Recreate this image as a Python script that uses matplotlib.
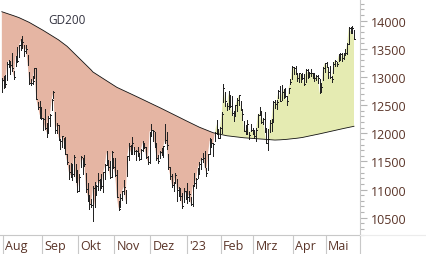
import numpy as np
import pandas as pd
import matplotlib
matplotlib.use("Agg")
import matplotlib.pyplot as plt
from matplotlib.lines import Line2D
from matplotlib.ticker import MultipleLocator

plt.rcParams["font.family"] = ["Open Sans", "DejaVu Sans"]

# trading days 29.07.2022 - 23.05.2023 (US exchange holidays removed)
holidays = ["2022-09-05", "2022-11-24", "2022-12-26", "2023-01-02",
            "2023-01-16", "2023-02-20", "2023-04-07"]
month_labels = ["Aug", "Sep", "Okt", "Nov", "Dez", "'23", "Feb", "Mrz", "Apr", "Mai"]
y_ticks = [10500, 11000, 11500, 12000, 12500, 13000, 13500, 14000]

close = [
    12947,
    12922, 12880, 13237, 13291, 13206, 13157, 13000, 13377, 13290, 13560, 13647, 13617,
    13466, 13503, 13238, 12899, 12886, 12935, 13157, 12617, 12468, 12334, 12272,
    12249, 12102, 12010, 12270, 12326, 12595, 12739, 12050, 12141, 11936, 11861, 11948,
    11851, 11640, 11493, 11311, 11255, 11271, 11584, 11225, 10971,
    11218, 11576, 11528, 11449, 11007, 10891, 10747, 10734, 11036, 10704, 11072, 11165,
    11107, 11062, 11305, 11428, 11666, 11406, 11230, 11668, 11405,
    11257, 10862, 10657, 10850, 10971, 11050, 10777, 11588, 11777, 11659, 11820, 11694,
    11686, 11677, 11545, 11709, 11835, 11758, 11582, 11493, 12030,
    12059, 12034, 11807, 11569, 11510, 11660, 11627, 11770, 11885, 11800, 11400, 11247,
    11085, 11083, 11260, 10990, 11020, 10880, 10700, 10979, 10940,
    10862, 10914, 10741, 11040, 11109, 11182, 11374, 11459, 11541, 11557, 11406, 11297,
    11629, 11872, 11834, 11813, 12006, 12167, 11921, 12102,
    12346, 12804, 12574, 12483, 12714, 12485, 12367, 12305, 12502, 12598, 12672, 12443,
    12351, 12048, 12060, 12166, 11968, 12057, 12042,
    11956, 12064, 12328, 12358, 12206, 12257, 12039, 11830, 11903, 12187, 12251, 12554,
    12520, 12562, 12756, 12576, 12734, 12767, 12655, 12566, 12805, 12912, 13182,
    13158, 13114, 12976, 13063, 13052, 12983, 12868, 13130, 13079, 13079, 13069, 13063,
    12983, 13019, 12982, 12713, 12820, 13160, 13246,
    13213, 13089, 12998, 12962, 13240, 13291, 13235, 13378, 13417, 13340, 13407, 13431,
    13587, 13877, 13811, 13862, 13673,
]

high = [
    12990,
    13020, 13030, 13260, 13310, 13260, 13420, 13110, 13380, 13530, 13560, 13680, 13720,
    13560, 13560, 13390, 13090, 12960, 13010, 13160, 13160, 12560, 12580, 12470,
    12280, 12440, 12190, 12300, 12340, 12610, 12750, 12380, 12190, 12150, 11890, 11960,
    11920, 11940, 11630, 11440, 11470, 11450, 11620, 11450, 11340,
    11270, 11600, 11560, 11620, 11300, 11110, 10900, 10830, 11060, 11140, 11090, 11300,
    11180, 11270, 11310, 11450, 11680, 11520, 11500, 11680, 11560,
    11560, 11340, 10800, 10930, 10980, 11170, 11000, 11590, 11830, 11800, 11940, 11760,
    11700, 11760, 11650, 11720, 11860, 11810, 11750, 11600, 12030,
    12170, 12050, 12020, 11820, 11620, 11690, 11740, 11780, 12170, 12030, 11630, 11400,
    11280, 11140, 11290, 11180, 11040, 11020, 10940, 11020, 10970,
    11110, 10980, 10870, 11080, 11290, 11200, 11380, 11490, 11560, 11650, 11690, 11380,
    11640, 11920, 11890, 11820, 12020, 12240, 12080, 12110,
    12370, 12880, 12730, 12540, 12750, 12680, 12660, 12400, 12510, 12630, 12680, 12580,
    12430, 12220, 12140, 12240, 12030, 12170, 12100,
    12060, 12100, 12340, 12470, 12390, 12280, 12370, 12090, 12080, 12240, 12260, 12580,
    12600, 12590, 12770, 12840, 12850, 12780, 12800, 12670, 12810, 12960, 13190,
    13180, 13190, 13070, 13080, 13060, 13080, 13060, 13150, 13140, 13090, 13150, 13080,
    13070, 13030, 13030, 12960, 12890, 13180, 13250,
    13270, 13180, 13200, 13010, 13260, 13310, 13260, 13400, 13430, 13430, 13420, 13490,
    13600, 13880, 13880, 13900, 13840,
]

low = [
    12730,
    12800, 12830, 12940, 13170, 13050, 13110, 12960, 13200, 13270, 13360, 13480, 13520,
    13380, 13430, 13220, 12880, 12850, 12870, 12980, 12610, 12430, 12280, 12260,
    12060, 12070, 11930, 12000, 12130, 12420, 12620, 12010, 12010, 11880, 11720, 11760,
    11740, 11630, 11460, 11190, 11230, 11170, 11250, 11130, 10950,
    10980, 11400, 11270, 11420, 10960, 10800, 10660, 10690, 10440, 10690, 10900, 11000,
    10990, 11020, 10960, 11190, 11440, 11350, 11210, 11230, 11390,
    11240, 10860, 10630, 10690, 10810, 10920, 10770, 11250, 11530, 11630, 11640, 11640,
    11530, 11600, 11530, 11550, 11680, 11740, 11560, 11460, 11470,
    11950, 11860, 11760, 11530, 11480, 11560, 11610, 11580, 11820, 11720, 11370, 11180,
    11040, 10980, 11110, 10800, 10880, 10810, 10680, 10780, 10830,
    10760, 10790, 10730, 10710, 11060, 11030, 11210, 11280, 11360, 11490, 11400, 11250,
    11340, 11640, 11750, 11590, 11870, 11980, 11920, 11920,
    12000, 12560, 12490, 12420, 12430, 12460, 12320, 12210, 12300, 12390, 12510, 12420,
    12240, 12040, 11990, 11980, 11900, 12040, 11980,
    11920, 11870, 12120, 12320, 12180, 12170, 12020, 11820, 11700, 12030, 12040, 12200,
    12450, 12440, 12620, 12570, 12600, 12620, 12640, 12510, 12710, 12870, 12970,
    13060, 13060, 12930, 12920, 12910, 12970, 12860, 12920, 12980, 13000, 13020, 12990,
    12930, 12950, 12900, 12710, 12740, 12950, 13090,
    13180, 12990, 12990, 12920, 13070, 13200, 13200, 13280, 13310, 13280, 13320, 13390,
    13400, 13580, 13780, 13790, 13670,
]

# GD200 (200-Tage-Linie)
gd200 = [
    14160, 14150, 14140, 14130, 14120, 14110, 14099, 14088, 14077, 14066, 14055,
    14041, 14027, 14013, 13999, 13985, 13970, 13952, 13935, 13917, 13900, 13882,
    13865, 13847, 13830, 13811, 13792, 13773, 13754, 13735, 13716, 13697, 13678,
    13660, 13637, 13614, 13591, 13568, 13545, 13515, 13485, 13455, 13425, 13395,
    13365, 13335, 13305, 13275, 13245, 13215, 13185, 13155, 13125, 13090, 13070,
    13051, 13031, 13012, 12992, 12972, 12953, 12933, 12914, 12894, 12874, 12855,
    12835, 12816, 12802, 12787, 12773, 12759, 12745, 12730, 12716, 12702, 12687,
    12673, 12659, 12645, 12630, 12615, 12601, 12586, 12572, 12557, 12542, 12528,
    12513, 12499, 12484, 12469, 12455, 12440, 12425, 12410, 12394, 12379, 12364,
    12349, 12334, 12318, 12303, 12288, 12273, 12257, 12242, 12227, 12212, 12197,
    12181, 12166, 12151, 12136, 12120, 12108, 12096, 12083, 12071, 12059, 12047,
    12035, 12022, 12010, 12003, 11996, 11989, 11981, 11974, 11967, 11960, 11956,
    11953, 11949, 11945, 11942, 11938, 11935, 11931, 11927, 11924, 11920, 11918,
    11916, 11913, 11911, 11909, 11907, 11904, 11902, 11900, 11898, 11896, 11893,
    11891, 11889, 11887, 11884, 11882, 11880, 11881, 11882, 11884, 11886, 11888,
    11890, 11893, 11897, 11900, 11903, 11907, 11910, 11913, 11917, 11920, 11926,
    11933, 11939, 11945, 11952, 11958, 11964, 11971, 11977, 11983, 11990, 11997,
    12004, 12011, 12018, 12025, 12032, 12039, 12046, 12053, 12060, 12066, 12073,
    12079, 12086, 12092, 12099, 12105, 12112, 12118, 12125,
]

days = pd.bdate_range("2022-07-29", "2023-05-23")
days = days[~days.isin(pd.to_datetime(holidays))]
n = min(len(days), len(close), len(high), len(low), len(gd200))
days = days[:n]
x = np.arange(n)
c = np.array(close[:n], float)
h = np.array(high[:n], float)
l = np.array(low[:n], float)
ma = np.array(gd200[:n], float)

salmon = "#e5b5a3"
lime = "#e5ebb2"
bar_col = "#232323"
grid_col = "#c8c8c8"
txt_col = "#5a3428"

fig = plt.figure(figsize=(4.26, 2.55), dpi=100)
ax = fig.add_axes([0, 19 / 255, 360 / 426, 236 / 255])

ax.fill_between(x, c, ma, where=c < ma, interpolate=True, color=salmon, lw=0, zorder=1)
ax.fill_between(x, c, ma, where=c >= ma, interpolate=True, color=lime, lw=0, zorder=1)
ax.plot(x, ma, color="#111111", lw=0.6, zorder=3)
ax.vlines(x, l, h, color=bar_col, lw=0.55, zorder=2, antialiased=False)
ax.hlines(c, x, x + 0.5, color=bar_col, lw=0.55, zorder=2, antialiased=False)

ax.set_xlim(-1.07, 208.5)
ax.set_ylim(10193, 14386)

# month separators below the plot
starts = [i for i in range(1, n) if days[i].month != days[i - 1].month]
seps = [s - 0.5 for s in starts]
ax.set_xticks(seps)
ax.set_xticklabels([])
ax.tick_params(axis="x", length=13.7, color=grid_col, width=0.8, direction="out")
for s, lab in zip(seps, month_labels):
    ax.text(s + 1.3, -0.045, lab, transform=ax.get_xaxis_transform(),
            ha="left", va="center", fontsize=9, color=txt_col)

ax.yaxis.tick_right()
ax.set_yticks(y_ticks)
ax.set_yticklabels([str(v) for v in y_ticks])
ax.yaxis.set_minor_locator(MultipleLocator(100))
ax.tick_params(axis="y", which="major", length=5, width=0.8, color="#b4b4b4",
               labelcolor=txt_col, labelsize=9, pad=2.5)
ax.tick_params(axis="y", which="minor", length=3.2, width=0.8, color="#b4b4b4")

for side in ["left", "top"]:
    ax.spines[side].set_visible(False)
for side in ["right", "bottom"]:
    ax.spines[side].set_color(grid_col)
    ax.spines[side].set_linewidth(0.8)

# axis frame continued into the label area
fig.add_artist(Line2D([360 / 426, 360 / 426], [0, 19 / 255], color=grid_col, lw=0.8))
fig.add_artist(Line2D([360 / 426, 1], [19 / 255, 19 / 255], color="#ececec", lw=0.8))

ax.text(0.134, 0.915, "GD200", transform=ax.transAxes, ha="left", va="center",
        fontsize=8.5, color="#333340")

fig.savefig("out.png", dpi=100)
